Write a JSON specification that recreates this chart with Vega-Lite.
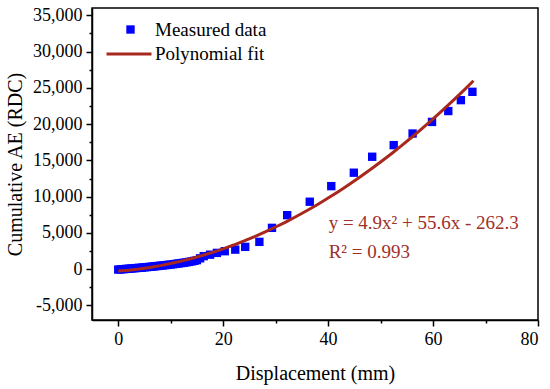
{
  "$schema": "https://vega.github.io/schema/vega-lite/v6.json",
  "width": 446,
  "height": 312,
  "autosize": "none",
  "padding": {"left": 92, "top": 8, "right": 12, "bottom": 69},
  "background": "white",
  "config": {
    "font": "Liberation Serif",
    "view": {"stroke": "black", "strokeWidth": 1.5},
    "axis": {
      "grid": false,
      "domainColor": "black",
      "domainWidth": 1.5,
      "tickColor": "black",
      "tickWidth": 1.5,
      "labelColor": "black",
      "titleColor": "black",
      "labelFont": "Liberation Serif",
      "titleFont": "Liberation Serif",
      "labelFontSize": 18,
      "titleFontSize": 20,
      "titleFontWeight": "normal",
      "labelPadding": 4
    },
    "legend": {"labelFont": "Liberation Serif", "labelFontSize": 19, "labelColor": "black"}
  },
  "datasets": {
    "measured": [
      {"x": 0, "y": -50, "s1": "Measured data"},
      {"x": 0.5, "y": -20, "s1": "Measured data"},
      {"x": 1, "y": 10, "s1": "Measured data"},
      {"x": 1.5, "y": 40, "s1": "Measured data"},
      {"x": 2, "y": 70, "s1": "Measured data"},
      {"x": 2.5, "y": 100, "s1": "Measured data"},
      {"x": 3, "y": 130, "s1": "Measured data"},
      {"x": 3.5, "y": 160, "s1": "Measured data"},
      {"x": 4, "y": 190, "s1": "Measured data"},
      {"x": 4.5, "y": 220, "s1": "Measured data"},
      {"x": 5, "y": 260, "s1": "Measured data"},
      {"x": 5.5, "y": 290, "s1": "Measured data"},
      {"x": 6, "y": 330, "s1": "Measured data"},
      {"x": 6.5, "y": 360, "s1": "Measured data"},
      {"x": 7, "y": 400, "s1": "Measured data"},
      {"x": 7.5, "y": 440, "s1": "Measured data"},
      {"x": 8, "y": 480, "s1": "Measured data"},
      {"x": 8.5, "y": 520, "s1": "Measured data"},
      {"x": 9, "y": 560, "s1": "Measured data"},
      {"x": 9.5, "y": 600, "s1": "Measured data"},
      {"x": 10, "y": 640, "s1": "Measured data"},
      {"x": 10.5, "y": 690, "s1": "Measured data"},
      {"x": 11, "y": 740, "s1": "Measured data"},
      {"x": 11.5, "y": 790, "s1": "Measured data"},
      {"x": 12, "y": 840, "s1": "Measured data"},
      {"x": 12.5, "y": 890, "s1": "Measured data"},
      {"x": 13, "y": 950, "s1": "Measured data"},
      {"x": 13.5, "y": 1010, "s1": "Measured data"},
      {"x": 14, "y": 1080, "s1": "Measured data"},
      {"x": 14.5, "y": 1150, "s1": "Measured data"},
      {"x": 15, "y": 1250, "s1": "Measured data"},
      {"x": 15.6, "y": 1500, "s1": "Measured data"},
      {"x": 16.3, "y": 1800, "s1": "Measured data"},
      {"x": 17.5, "y": 2000, "s1": "Measured data"},
      {"x": 18.8, "y": 2250, "s1": "Measured data"},
      {"x": 20.3, "y": 2480, "s1": "Measured data"},
      {"x": 22.3, "y": 2700, "s1": "Measured data"},
      {"x": 24.2, "y": 3080, "s1": "Measured data"},
      {"x": 26.9, "y": 3770, "s1": "Measured data"},
      {"x": 29.3, "y": 5700, "s1": "Measured data"},
      {"x": 32.2, "y": 7450, "s1": "Measured data"},
      {"x": 36.5, "y": 9300, "s1": "Measured data"},
      {"x": 40.6, "y": 11450, "s1": "Measured data"},
      {"x": 44.9, "y": 13300, "s1": "Measured data"},
      {"x": 48.4, "y": 15500, "s1": "Measured data"},
      {"x": 52.5, "y": 17100, "s1": "Measured data"},
      {"x": 56.1, "y": 18700, "s1": "Measured data"},
      {"x": 59.8, "y": 20300, "s1": "Measured data"},
      {"x": 62.9, "y": 21800, "s1": "Measured data"},
      {"x": 65.3, "y": 23300, "s1": "Measured data"},
      {"x": 67.5, "y": 24450, "s1": "Measured data"}
    ],
    "fit": [
      {"x": 0, "y": -262.3, "s2": "Polynomial fit"},
      {"x": 2, "y": -131.5, "s2": "Polynomial fit"},
      {"x": 4, "y": 38.5, "s2": "Polynomial fit"},
      {"x": 6, "y": 247.7, "s2": "Polynomial fit"},
      {"x": 8, "y": 496.1, "s2": "Polynomial fit"},
      {"x": 10, "y": 783.7, "s2": "Polynomial fit"},
      {"x": 12, "y": 1110.5, "s2": "Polynomial fit"},
      {"x": 14, "y": 1476.5, "s2": "Polynomial fit"},
      {"x": 16, "y": 1881.7, "s2": "Polynomial fit"},
      {"x": 18, "y": 2326.1, "s2": "Polynomial fit"},
      {"x": 20, "y": 2809.7, "s2": "Polynomial fit"},
      {"x": 22, "y": 3332.5, "s2": "Polynomial fit"},
      {"x": 24, "y": 3894.5, "s2": "Polynomial fit"},
      {"x": 26, "y": 4495.7, "s2": "Polynomial fit"},
      {"x": 28, "y": 5136.1, "s2": "Polynomial fit"},
      {"x": 30, "y": 5815.7, "s2": "Polynomial fit"},
      {"x": 32, "y": 6534.5, "s2": "Polynomial fit"},
      {"x": 34, "y": 7292.5, "s2": "Polynomial fit"},
      {"x": 36, "y": 8089.7, "s2": "Polynomial fit"},
      {"x": 38, "y": 8926.1, "s2": "Polynomial fit"},
      {"x": 40, "y": 9801.7, "s2": "Polynomial fit"},
      {"x": 42, "y": 10716.5, "s2": "Polynomial fit"},
      {"x": 44, "y": 11670.5, "s2": "Polynomial fit"},
      {"x": 46, "y": 12663.7, "s2": "Polynomial fit"},
      {"x": 48, "y": 13696.1, "s2": "Polynomial fit"},
      {"x": 50, "y": 14767.7, "s2": "Polynomial fit"},
      {"x": 52, "y": 15878.5, "s2": "Polynomial fit"},
      {"x": 54, "y": 17028.5, "s2": "Polynomial fit"},
      {"x": 56, "y": 18217.7, "s2": "Polynomial fit"},
      {"x": 58, "y": 19446.1, "s2": "Polynomial fit"},
      {"x": 60, "y": 20713.7, "s2": "Polynomial fit"},
      {"x": 62, "y": 22020.5, "s2": "Polynomial fit"},
      {"x": 64, "y": 23366.5, "s2": "Polynomial fit"},
      {"x": 66, "y": 24751.7, "s2": "Polynomial fit"},
      {"x": 67.7, "y": 25973.0, "s2": "Polynomial fit"}
    ],
    "notes": [
      {"x": 40.1, "y": 6400, "label": "y = 4.9x² + 55.6x - 262.3"},
      {"x": 40.1, "y": 2400, "label": "R² = 0.993"}
    ]
  },
  "encoding": {
    "x": {
      "field": "x",
      "type": "quantitative",
      "scale": {"domain": [-5, 80], "nice": false, "zero": false},
      "axis": {
        "title": "Displacement (mm)",
        "titlePadding": 15,
        "labelFont": "Liberation Serif",
        "labelFontSize": 18,
        "values": [0, 10, 20, 30, 40, 50, 60, 70, 80],
        "labelExpr": "datum.value % 20 === 0 ? datum.label : ''",
        "tickSize": {"condition": {"test": "datum.value % 20 === 0", "value": 6}, "value": 3},
        "encode": {"labels": {"update": {"font": {"value": "Liberation Serif"}, "fontSize": {"value": 18}}}}
      }
    },
    "y": {
      "field": "y",
      "type": "quantitative",
      "scale": {"domain": [-7000, 36000], "nice": false, "zero": false},
      "axis": {
        "title": "Cumulative AE (RDC)",
        "titlePadding": 7,
        "labelFont": "Liberation Serif",
        "labelFontSize": 18,
        "values": [-5000, -2500, 0, 2500, 5000, 7500, 10000, 12500, 15000, 17500, 20000, 22500, 25000, 27500, 30000, 32500, 35000],
        "labelExpr": "datum.value % 5000 === 0 ? replace(format(datum.value, ','), '−', '-') : ''",
        "tickSize": {"condition": {"test": "datum.value % 5000 === 0", "value": 6}, "value": 3},
        "encode": {"labels": {"update": {"font": {"value": "Liberation Serif"}, "fontSize": {"value": 18}}}}
      }
    }
  },
  "layer": [
    {
      "data": {"name": "measured"},
      "mark": {"type": "square", "size": 70, "filled": true, "opacity": 1},
      "encoding": {
        "fill": {
          "field": "s1",
          "type": "nominal",
          "scale": {"domain": ["Measured data"], "range": ["#0000ff"]},
          "legend": {
            "title": null,
            "orient": "none",
            "legendX": 29,
            "legendY": 12,
            "symbolType": "square",
            "symbolSize": 70,
            "symbolOpacity": 1,
            "symbolStrokeWidth": 0,
            "labelOffset": 15
          }
        }
      }
    },
    {
      "data": {"name": "fit"},
      "mark": {"type": "line", "strokeWidth": 3, "clip": true},
      "encoding": {
        "stroke": {
          "field": "s2",
          "type": "nominal",
          "scale": {"domain": ["Polynomial fit"], "range": ["#a8281e"]},
          "legend": {
            "title": null,
            "orient": "none",
            "legendX": 13,
            "legendY": 22,
            "symbolType": "stroke",
            "symbolSize": 2025,
            "symbolStrokeWidth": 3,
            "labelOffset": 2
          }
        }
      }
    },
    {
      "data": {"name": "notes"},
      "mark": {"type": "text", "align": "left", "baseline": "middle", "fontSize": 19, "font": "Liberation Serif", "fill": "#a0302a"},
      "encoding": {
        "text": {"field": "label", "type": "nominal"}
      }
    }
  ]
}
